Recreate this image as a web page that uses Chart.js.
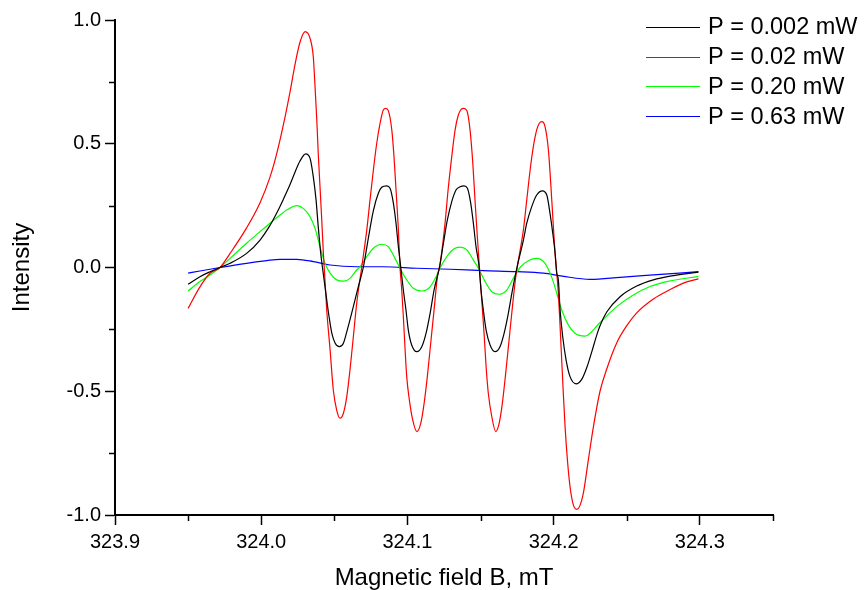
<!DOCTYPE html>
<html>
<head>
<meta charset="utf-8">
<script src="https://cdn.jsdelivr.net/npm/chart.js@4"></script>
<style>
  html, body { margin: 0; padding: 0; background: #fff; }
  canvas { display: block; }
</style>
</head>
<body>
<canvas id="epr" width="864" height="590"></canvas>
<script>
// EPR spectra at four microwave powers

const seriesLabels = ['P = 0.002 mW', 'P = 0.02 mW', 'P = 0.20 mW', 'P = 0.63 mW'];
const seriesColors = ['#000000', '#ff0000', '#00ff00', '#0000ff'];

const xTicks = [323.9, 324.0, 324.1, 324.2, 324.3];
const xMinor = [323.95, 324.05, 324.15, 324.25, 324.35];
const yTicks = [-1.0, -0.5, 0.0, 0.5, 1.0];
const yMinor = [-0.75, -0.25, 0.25, 0.75];

// P = 0.002 mW (black)
const fieldP002 = [323.9500, 323.9581, 323.9650, 323.9718, 323.9787, 323.9900, 323.9992, 324.0060, 324.0106, 324.0151,
  324.0197, 324.0231, 324.0265, 324.0304, 324.0334, 324.0356, 324.0375, 324.0390, 324.0407, 324.0421,
  324.0448, 324.0464, 324.0483, 324.0506, 324.0534, 324.0562, 324.0585, 324.0630, 324.0664, 324.0698,
  324.0733, 324.0767, 324.0801, 324.0824, 324.0858, 324.0881, 324.0904, 324.0922, 324.0938, 324.0954,
  324.0972, 324.0990, 324.1006, 324.1029, 324.1064, 324.1098, 324.1127, 324.1155, 324.1182, 324.1220,
  324.1246, 324.1273, 324.1303, 324.1332, 324.1360, 324.1387, 324.1410, 324.1433, 324.1451, 324.1469,
  324.1490, 324.1503, 324.1519, 324.1538, 324.1565, 324.1599, 324.1633, 324.1661, 324.1690, 324.1718,
  324.1750, 324.1793, 324.1816, 324.1850, 324.1884, 324.1923, 324.1953, 324.1975, 324.1994, 324.2010,
  324.2021, 324.2032, 324.2044, 324.2062, 324.2085, 324.2112, 324.2153, 324.2192, 324.2226, 324.2261,
  324.2295, 324.2317, 324.2363, 324.2454, 324.2568, 324.2682, 324.2796, 324.2990];
const intP002 = [-0.068, -0.037, -0.017, 0.000, 0.017, 0.057, 0.111, 0.170, 0.220, 0.275,
  0.335, 0.385, 0.430, 0.459, 0.441, 0.367, 0.273, 0.165, 0.057, -0.010,
  -0.131, -0.199, -0.266, -0.306, -0.320, -0.306, -0.260, -0.158, -0.077, 0.000,
  0.120, 0.230, 0.300, 0.324, 0.330, 0.320, 0.259, 0.178, 0.084, 0.003,
  -0.091, -0.172, -0.253, -0.313, -0.340, -0.320, -0.266, -0.185, -0.091, 0.003,
  0.098, 0.192, 0.266, 0.313, 0.326, 0.330, 0.320, 0.259, 0.178, 0.084,
  0.003, -0.091, -0.172, -0.253, -0.313, -0.340, -0.320, -0.266, -0.185, -0.091,
  0.003, 0.111, 0.179, 0.246, 0.293, 0.310, 0.293, 0.219, 0.138, 0.057,
  -0.023, -0.050, -0.172, -0.280, -0.374, -0.441, -0.470, -0.452, -0.405, -0.340,
  -0.272, -0.235, -0.180, -0.118, -0.075, -0.050, -0.035, -0.019];

// P = 0.02 mW (red)
const fieldP02 = [323.9500, 323.9581, 323.9650, 323.9718, 323.9787, 323.9900, 323.9992, 324.0060, 324.0106, 324.0151,
  324.0197, 324.0231, 324.0265, 324.0300, 324.0334, 324.0356, 324.0368, 324.0380, 324.0390, 324.0402,
  324.0414, 324.0425, 324.0436, 324.0448, 324.0471, 324.0493, 324.0516, 324.0539, 324.0562, 324.0585,
  324.0607, 324.0630, 324.0653, 324.0687, 324.0722, 324.0744, 324.0767, 324.0790, 324.0813, 324.0835,
  324.0852, 324.0869, 324.0893, 324.0908, 324.0922, 324.0938, 324.0949, 324.0961, 324.0972, 324.0984,
  324.0995, 324.1013, 324.1036, 324.1064, 324.1091, 324.1114, 324.1136, 324.1159, 324.1182, 324.1205,
  324.1223, 324.1257, 324.1278, 324.1303, 324.1326, 324.1348, 324.1367, 324.1385, 324.1406, 324.1428,
  324.1447, 324.1462, 324.1478, 324.1492, 324.1508, 324.1524, 324.1538, 324.1553, 324.1577, 324.1604,
  324.1627, 324.1649, 324.1672, 324.1695, 324.1718, 324.1741, 324.1759, 324.1793, 324.1816, 324.1839,
  324.1861, 324.1884, 324.1902, 324.1919, 324.1941, 324.1964, 324.1980, 324.1994, 324.2008, 324.2021,
  324.2032, 324.2044, 324.2055, 324.2066, 324.2078, 324.2094, 324.2112, 324.2135, 324.2158, 324.2181,
  324.2203, 324.2237, 324.2272, 324.2317, 324.2363, 324.2431, 324.2500, 324.2568, 324.2682, 324.2796,
  324.2887, 324.2990];
const intP02 = [-0.165, -0.078, -0.023, 0.000, 0.057, 0.160, 0.262, 0.365, 0.460, 0.575,
  0.710, 0.820, 0.910, 0.953, 0.926, 0.852, 0.731, 0.596, 0.461, 0.326,
  0.192, 0.057, -0.050, -0.172, -0.333, -0.495, -0.576, -0.609, -0.589, -0.522,
  -0.414, -0.280, -0.145, 0.000, 0.152, 0.273, 0.394, 0.502, 0.583, 0.636,
  0.643, 0.634, 0.556, 0.448, 0.313, 0.152, 0.003, -0.091, -0.199, -0.333,
  -0.441, -0.535, -0.616, -0.663, -0.630, -0.549, -0.441, -0.306, -0.172, -0.037,
  0.015, 0.178, 0.313, 0.448, 0.556, 0.616, 0.639, 0.643, 0.634, 0.556,
  0.421, 0.273, 0.124, 0.003, -0.131, -0.266, -0.401, -0.508, -0.603, -0.663,
  -0.630, -0.549, -0.427, -0.293, -0.158, -0.037, 0.030, 0.152, 0.273, 0.394,
  0.488, 0.556, 0.583, 0.589, 0.569, 0.475, 0.340, 0.205, 0.071, -0.023,
  -0.104, -0.239, -0.374, -0.508, -0.643, -0.778, -0.886, -0.960, -0.977, -0.960,
  -0.912, -0.778, -0.643, -0.500, -0.410, -0.305, -0.235, -0.183, -0.127, -0.089,
  -0.063, -0.046];

// P = 0.20 mW (green)
const fieldP20 = [323.9500, 323.9581, 323.9650, 323.9718, 323.9787, 323.9900, 323.9992, 324.0060, 324.0129, 324.0174,
  324.0243, 324.0288, 324.0334, 324.0368, 324.0402, 324.0436, 324.0471, 324.0516, 324.0566, 324.0607,
  324.0653, 324.0676, 324.0722, 324.0767, 324.0824, 324.0869, 324.0915, 324.0949, 324.0995, 324.1040,
  324.1098, 324.1155, 324.1196, 324.1225, 324.1269, 324.1314, 324.1360, 324.1406, 324.1451, 324.1485,
  324.1531, 324.1577, 324.1627, 324.1679, 324.1724, 324.1770, 324.1830, 324.1884, 324.1941, 324.1987,
  324.2021, 324.2055, 324.2100, 324.2146, 324.2215, 324.2317, 324.2431, 324.2545, 324.2659, 324.2773,
  324.2990];
const intP20 = [-0.095, -0.057, -0.030, 0.000, 0.037, 0.098, 0.145, 0.179, 0.212, 0.232,
  0.250, 0.239, 0.205, 0.158, 0.084, 0.017, -0.023, -0.050, -0.055, -0.044,
  -0.010, 0.003, 0.044, 0.078, 0.094, 0.084, 0.037, -0.003, -0.050, -0.084,
  -0.095, -0.078, -0.037, 0.000, 0.044, 0.074, 0.082, 0.071, 0.030, -0.003,
  -0.057, -0.098, -0.108, -0.091, -0.044, 0.000, 0.028, 0.037, 0.017, -0.040,
  -0.104, -0.172, -0.232, -0.266, -0.277, -0.222, -0.158, -0.111, -0.077, -0.057,
  -0.036];

// P = 0.63 mW (blue)
const fieldP63 = [323.9500, 323.9581, 323.9718, 323.9900, 324.0038, 324.0129, 324.0243, 324.0356, 324.0471, 324.0653,
  324.0835, 324.1064, 324.1291, 324.1519, 324.1748, 324.1930, 324.2060, 324.2249, 324.2454, 324.2682,
  324.2990];
const intP63 = [-0.023, -0.014, 0.000, 0.017, 0.028, 0.033, 0.033, 0.024, 0.010, 0.003,
  0.003, -0.003, -0.007, -0.013, -0.017, -0.023, -0.035, -0.048, -0.040, -0.030,
  -0.017];

const fields = [fieldP002, fieldP02, fieldP20, fieldP63];
const intensities = [intP002, intP02, intP20, intP63];

const FONT = "'Liberation Sans', Arial, sans-serif";

const datasets = seriesLabels.map((label, k) => ({
  label,
  data: fields[k].map((x, i) => ({ x, y: intensities[k][i] })),
  borderColor: seriesColors[k],
  borderWidth: 1.2,
  pointRadius: 0,
  cubicInterpolationMode: 'monotone',
  fill: false
}));

// minor ticks (shorter than the major ones)
const minorTicks = {
  id: 'minorTicks',
  afterDraw(chart) {
    const { ctx } = chart;
    const xs = chart.scales.x, ys = chart.scales.y;
    ctx.save();
    ctx.strokeStyle = '#000';
    ctx.lineWidth = 1.5;
    ctx.beginPath();
    xMinor.forEach(v => {
      const px = Math.round(xs.getPixelForValue(v)) + 0.5;
      ctx.moveTo(px, xs.top);
      ctx.lineTo(px, xs.top + 6);
    });
    yMinor.forEach(v => {
      const py = Math.round(ys.getPixelForValue(v)) + 0.5;
      ctx.moveTo(ys.right, py);
      ctx.lineTo(ys.right - 6, py);
    });
    ctx.stroke();
    ctx.restore();
  }
};

// legend in the upper right corner, outside the plot frame
const sideLegend = {
  id: 'sideLegend',
  afterDraw(chart) {
    const { ctx } = chart;
    ctx.save();
    ctx.font = '23.5px ' + FONT;
    ctx.textBaseline = 'middle';
    ctx.textAlign = 'left';
    chart.data.datasets.forEach((ds, i) => {
      const y = 27 + i * 29.7;
      ctx.strokeStyle = ds.borderColor;
      ctx.lineWidth = 1.2;
      ctx.beginPath();
      ctx.moveTo(646, Math.round(y) + 0.5);
      ctx.lineTo(700, Math.round(y) + 0.5);
      ctx.stroke();
      ctx.fillStyle = '#000';
      ctx.fillText(ds.label, 708, y + 1);
    });
    ctx.restore();
  }
};

const tickFont = { family: FONT, size: 20 };

new Chart(document.getElementById('epr'), {
  type: 'line',
  data: { datasets },
  options: {
    responsive: false,
    animation: false,
    layout: { padding: { top: 20, right: 91, left: 0, bottom: 0 } },
    plugins: { legend: { display: false }, tooltip: { enabled: false } },
    scales: {
      x: {
        type: 'linear',
        min: 323.9,
        max: 324.35,
        afterFit: s => { s.height = 75; },
        afterBuildTicks: s => { s.ticks = xTicks.map(v => ({ value: v })); },
        ticks: { callback: v => v.toFixed(1), font: tickFont, color: '#000', padding: 5, maxRotation: 0, autoSkip: false },
        grid: { drawOnChartArea: false, drawTicks: true, tickLength: 10, tickColor: '#000', tickWidth: 1.5 },
        border: { display: true, color: '#000', width: 2 },
        title: { display: true, text: 'Magnetic field B, mT', font: { family: FONT, size: 24, lineHeight: 0.95 }, color: '#000', padding: { top: 0, bottom: 0 } }
      },
      y: {
        type: 'linear',
        min: -1,
        max: 1,
        afterFit: s => { s.width = 115; },
        afterBuildTicks: s => { s.ticks = yTicks.map(v => ({ value: v })); },
        ticks: { callback: v => v.toFixed(1), font: tickFont, color: '#000', padding: 4, autoSkip: false },
        grid: { drawOnChartArea: false, drawTicks: true, tickLength: 10, tickColor: '#000', tickWidth: 1.5 },
        border: { display: true, color: '#000', width: 2 },
        title: { display: true, text: 'Intensity', font: { family: FONT, size: 24 }, color: '#000', padding: { top: 8, bottom: 0 } }
      }
    }
  },
  plugins: [minorTicks, sideLegend]
});
</script>
</body>
</html>
